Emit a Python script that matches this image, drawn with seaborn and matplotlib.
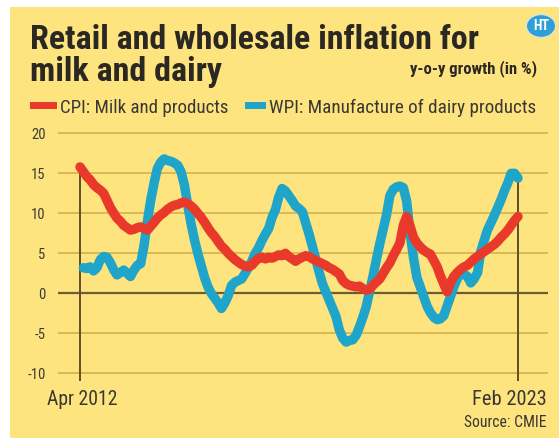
import matplotlib
matplotlib.use("Agg")
import matplotlib.pyplot as plt
import matplotlib.dates as mdates
import matplotlib.font_manager as fm
from matplotlib.patches import Rectangle, Circle
import numpy as np
import pandas as pd
import seaborn as sns

# ---- data: monthly y-o-y growth (%), Apr 2012 .. Feb 2023 ----
start_month = "2012-04-01"
n_months = 131

cpi_milk = [
    15.8, 15.2, 14.6, 14.2, 13.6, 13.2, 12.9, 12.5, 11.6, 10.7,
    10.0, 9.4, 9.0, 8.5, 8.2, 7.9, 8.0, 8.2, 8.3, 8.1,
    7.9, 8.4, 8.9, 9.4, 9.8, 10.1, 10.5, 10.8, 11.0, 11.1,
    11.3, 11.4, 11.2, 10.9, 10.5, 10.0, 9.5, 8.9, 8.2, 7.6,
    7.1, 6.5, 5.9, 5.5, 5.0, 4.6, 4.2, 3.9, 3.6, 3.4,
    3.3, 3.5, 4.0, 4.4, 4.5, 4.3, 4.5, 4.4, 4.6, 4.8,
    4.7, 5.0, 4.6, 4.3, 4.0, 4.3, 4.5, 4.7, 4.6, 4.3,
    4.1, 3.9, 3.7, 3.5, 3.2, 3.0, 2.7, 2.4, 1.6, 1.2,
    1.0, 0.9, 0.8, 0.9, 0.6, 0.4, 0.5, 1.0, 1.4, 1.8,
    2.5, 3.2, 3.8, 4.7, 5.5, 6.3, 8.5, 9.6, 8.4, 7.0,
    6.3, 5.8, 5.4, 5.1, 4.9, 4.1, 3.3, 2.2, 1.2, 0.2,
    1.3, 2.1, 2.6, 3.0, 3.3, 3.5, 3.9, 4.3, 4.6, 4.9,
    5.2, 5.5, 5.8, 6.1, 6.5, 7.0, 7.4, 7.9, 8.5, 9.1,
    9.6,
]

wpi_dairy = [
    np.nan, 3.2, 3.1, 3.3, 2.8, 3.2, 4.2, 4.6, 4.5, 3.8,
    2.9, 2.3, 2.6, 2.9, 2.5, 2.1, 2.9, 3.5, 3.7, 6.0,
    9.0, 11.7, 13.9, 15.6, 16.4, 16.8, 16.6, 16.5, 16.3, 16.0,
    15.2, 13.5, 11.0, 8.6, 6.6, 5.0, 3.5, 2.0, 0.8, 0.0,
    -0.6, -1.2, -1.9, -1.2, -0.3, 1.0, 1.4, 1.6, 1.8, 2.5,
    3.2, 4.0, 5.0, 5.7, 6.6, 7.4, 8.1, 9.5, 10.5, 12.0,
    13.1, 12.8, 12.2, 11.6, 10.9, 10.6, 10.2, 8.8, 7.4, 5.8,
    4.2, 2.7, 1.2, 0.2, -0.8, -1.8, -2.9, -4.6, -5.6, -6.1,
    -5.9, -5.8, -5.2, -4.2, -3.0, -1.7, 0.2, 2.1, 4.2, 6.2,
    8.0, 9.8, 12.2, 13.0, 13.3, 13.4, 13.2, 11.5, 7.5, 4.5,
    2.0, 0.8, -0.4, -1.6, -2.4, -3.0, -3.3, -3.2, -2.8, -1.6,
    -0.4, 0.8, 1.8, 2.5, 2.4, 2.1, 1.3, 1.8, 2.6, 5.2,
    6.6, 7.9, 8.8, 9.7, 10.7, 11.7, 12.8, 13.8, 15.0, 15.0,
    14.4,
]

series_names = ["CPI: Milk and products", "WPI: Manufacture of dairy products"]
series_colors = ["#e8392b", "#1fa5c9"]
y_ticks = [-10, -5, 0, 5, 10, 15, 20]
end_labels = ["Apr 2012", "Feb 2023"]

# ---- fonts ----
sns.set_style("white")
names = {f.name for f in fm.fontManager.ttflist}
family, stretch = None, "normal"
for cand in ["Roboto Condensed", "Liberation Sans Narrow", "Open Sans Condensed",
             "Fira Sans Condensed"]:
    if cand in names:
        family = cand
        break
if family is None:
    if any(f.name == "DejaVu Sans" and str(f.stretch) == "condensed"
           for f in fm.fontManager.ttflist):
        family, stretch = "DejaVu Sans", "condensed"
    elif "Roboto" in names:
        family = "Roboto"
    else:
        family = "DejaVu Sans"
plt.rcParams["font.family"] = [family, "DejaVu Sans"]
plt.rcParams["font.stretch"] = stretch

# ---- long-form table ----
dates = pd.date_range(start_month, periods=n_months, freq="MS")
df = pd.DataFrame({"date": dates,
                   series_names[0]: cpi_milk,
                   series_names[1]: wpi_dairy})
long_df = df.melt(id_vars="date", var_name="series", value_name="growth").dropna()

W, H = 559, 438
BG = "#fde47e"
fig = plt.figure(figsize=(W / 100, H / 100), dpi=100, facecolor="white")
fig.patches.append(Rectangle((10 / W, 0), 1 - 10 / W, 1 - 7 / H,
                             transform=fig.transFigure, facecolor=BG,
                             edgecolor="none", zorder=-10))

# axes box in pixels (from top-left)
ax_left, ax_right = 58, 548
ax_top, ax_bottom = 125.3, 385.3
ax = fig.add_axes([ax_left / W, 1 - ax_bottom / H,
                   (ax_right - ax_left) / W, (ax_bottom - ax_top) / H])
ax.set_facecolor("none")

palette = dict(zip(series_names, series_colors))
# WPI first so that the CPI line sits on top where they cross
sns.lineplot(data=long_df, x="date", y="growth", hue="series",
             hue_order=[series_names[1], series_names[0]], palette=palette,
             linewidth=6.8, solid_capstyle="round", solid_joinstyle="round",
             legend=False, ax=ax, zorder=3)

# x range: first month at px 80, last at px 518
x0, x1 = mdates.date2num(dates[0]), mdates.date2num(dates[-1])
ppd = (518 - 80) / (x1 - x0)
ax.set_xlim(x0 - (80 - ax_left) / ppd, x1 + (ax_right - 518) / ppd)
ax.set_ylim(-11.5, 21)

for s in ax.spines.values():
    s.set_visible(False)
ax.set_xticks([])
ax.set_xlabel("")
ax.set_ylabel("")
ax.set_yticks(y_ticks)
ax.set_yticklabels([str(t) for t in y_ticks])
ax.tick_params(axis="y", length=0, pad=9, labelsize=10.5, labelcolor="#3b3a36")

for t in y_ticks:
    if t == 0:
        ax.axhline(t, color="#6e5d2e", linewidth=1.6, zorder=1)
    else:
        ax.axhline(t, color="#d0ae4a", linewidth=1.1, zorder=1)

ax.vlines([dates[0], dates[-1]], -10.9, 15, color="#5e4f28", linewidth=1.4, zorder=2)

# ---- texts ----
renderer = fig.canvas.get_renderer()


def put(x, y, s, size, width=None, **kw):
    t = fig.text(x / W, 1 - y / H, s, fontsize=size, va="baseline", **kw)
    if width is not None:
        bb = t.get_window_extent(renderer)
        if bb.width > width:
            t.set_fontsize(size * width / bb.width)
    return t


title_c = "#2b2723"
t1 = put(30, 49, "Retail and wholesale inflation for", 26, width=449,
         fontweight="bold", color=title_c)
put(30, 81, "milk and dairy", t1.get_fontsize(), fontweight="bold", color=title_c)
put(537, 73, "y-o-y growth (in %)", 12, width=141, fontweight="bold",
    color=title_c, ha="right")

# legend
fig.patches.append(Rectangle((30 / W, 1 - 109 / H), 27 / W, 7.5 / H,
                             transform=fig.transFigure, facecolor=series_colors[0],
                             edgecolor="none"))
put(60, 113, series_names[0], 16, width=169, color="#3a3733")
fig.patches.append(Rectangle((245 / W, 1 - 109 / H), 21 / W, 7.5 / H,
                             transform=fig.transFigure, facecolor=series_colors[1],
                             edgecolor="none"))
put(269, 113, series_names[1], 16, width=268, color="#3a3733")

put(47, 405, end_labels[0], 16, width=71, color="#3a3733")
put(547, 405, end_labels[1], 16, width=75, color="#3a3733", ha="right")
put(547, 427, "Source: CMIE", 12, width=82, color="#3a3733", ha="right")

# HT badge
fig.patches.append(Circle((541 / W, 1 - 26 / H), 14.5 / W, transform=fig.transFigure,
                          facecolor="#2f9fd6", edgecolor="#cfe6ef", linewidth=0.8))
fig.text(541 / W, 1 - 26 / H, "HT", fontsize=10, fontweight="bold", color="white",
         ha="center", va="center")

fig.savefig("out.png", dpi=100, facecolor=fig.get_facecolor())
